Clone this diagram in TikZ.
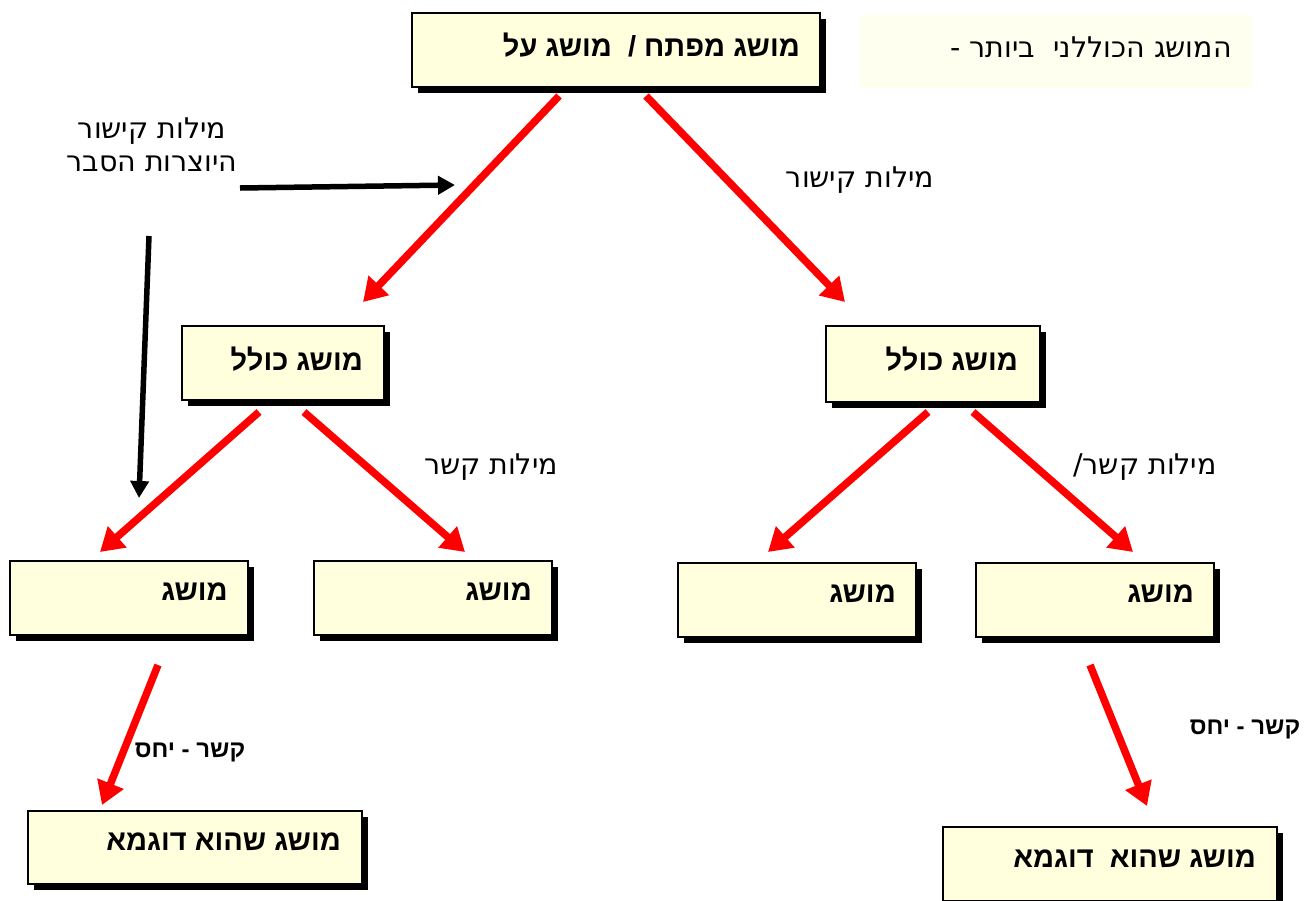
\documentclass[tikz,border=0pt]{standalone}
\usepackage{fontspec}
\usetikzlibrary{arrows.meta,shadows}
\TeXXeTstate=1
\newfontfamily\hebb[Script=Hebrew]{Liberation Sans}
\newfontfamily\hebr[Script=Hebrew]{DejaVu Sans}
\definecolor{boxfill}{RGB}{255,255,222}
\definecolor{legfill}{RGB}{255,255,240}
\tikzset{
  cbox/.style={draw=black,line width=1.5pt,fill=boxfill,inner sep=0pt,
    drop shadow={opacity=1,fill=black,shadow xshift=6pt,shadow yshift=-6pt}},
  btxt/.style={font=\hebb\bfseries\fontsize{29}{34}\selectfont,inner sep=0pt,anchor=east},
  ltxt/.style={font=\hebr\fontsize{28.5}{33}\selectfont,inner sep=0pt},
  stxt/.style={font=\hebb\bfseries\fontsize{24}{28}\selectfont,inner sep=0pt},
  redarr/.style={draw=red,line width=7.5pt,-{Triangle[length=23pt,width=27pt]}},
  blkarr/.style={draw=black,line width=5.5pt,-{Triangle[length=17pt,width=18pt]}}
}
\begin{document}
\begin{tikzpicture}[x=1pt,y=-1pt]
\useasboundingbox (0,0) rectangle (1311,900);
% legend
\node[fill=legfill,minimum width=392pt,minimum height=73pt,inner sep=0pt] (leg) at (1056,51.5) {};
\node[ltxt,anchor=east] (legt) at (1232,47) {\beginR המושג הכוללני~ ביותר -\endR};
% boxes
\node[cbox,minimum width=408pt,minimum height=74pt] (top) at (616,50) {};
\node[cbox,minimum width=202pt,minimum height=74pt] (gl) at (283,363) {};
\node[cbox,minimum width=214pt,minimum height=76pt] (gr) at (933,364) {};
\node[cbox,minimum width=238pt,minimum height=74pt] (ca) at (129,598) {};
\node[cbox,minimum width=238pt,minimum height=74pt] (cb) at (433,598) {};
\node[cbox,minimum width=238pt,minimum height=74pt] (cc) at (797,600) {};
\node[cbox,minimum width=238pt,minimum height=74pt] (cd) at (1095,600) {};
\node[cbox,minimum width=334pt,minimum height=73pt] (ea) at (195,847.5) {};
\node[cbox,minimum width=334pt,minimum height=74pt] (eb) at (1110,864) {};
% box texts
\node[btxt] (topt) at (800,45) {\beginR מושג מפתח /~ מושג על\endR};
\node[btxt] (glt) at (363,359) {\beginR מושג כולל\endR};
\node[btxt] (grt) at (1018,359) {\beginR מושג כולל\endR};
\node[btxt] (cat) at (228,592) {\beginR מושג\endR};
\node[btxt] (cbt) at (532,592) {\beginR מושג\endR};
\node[btxt] (cct) at (896,594) {\beginR מושג\endR};
\node[btxt] (cdt) at (1194,594) {\beginR מושג\endR};
\node[btxt] (eat) at (341,842) {\beginR מושג שהוא דוגמא\endR};
\node[btxt] (ebt) at (1256,859) {\beginR מושג שהוא~ דוגמא\endR};
% labels
\node[ltxt,align=center] (l1) at (152,145) {\beginR מילות קישור\endR\\\beginR היוצרות הסבר\endR};
\node[ltxt] (l2) at (860,180) {\beginR מילות קישור\endR};
\node[ltxt] (l3) at (491,467) {\beginR מילות קשר\endR};
\node[ltxt] (l4) at (1145,467) {\beginR מילות קשר/\endR};
\node[stxt] (l5) at (190,752) {\beginR קשר - יחס\endR};
\node[stxt] (l6) at (1245,729) {\beginR קשר - יחס\endR};
% arrow end points
\coordinate (a1s) at (559,96);  \coordinate (a1e) at (363,302);
\coordinate (a2s) at (646,96);  \coordinate (a2e) at (845,302);
\coordinate (a3s) at (259,412); \coordinate (a3e) at (100,552);
\coordinate (a4s) at (304,412); \coordinate (a4e) at (465,552);
\coordinate (a5s) at (928,412); \coordinate (a5e) at (768,552);
\coordinate (a6s) at (973,412); \coordinate (a6e) at (1133,552);
\coordinate (a7s) at (158,665); \coordinate (a7e) at (102,805);
\coordinate (a8s) at (1090,665); \coordinate (a8e) at (1147,806);
\coordinate (b1s) at (240,188); \coordinate (b1e) at (455,185);
\coordinate (b2s) at (149,236); \coordinate (b2e) at (139,498);
\draw[redarr] (a1s) -- (a1e);
\draw[redarr] (a2s) -- (a2e);
\draw[redarr] (a3s) -- (a3e);
\draw[redarr] (a4s) -- (a4e);
\draw[redarr] (a5s) -- (a5e);
\draw[redarr] (a6s) -- (a6e);
\draw[redarr] (a7s) -- (a7e);
\draw[redarr] (a8s) -- (a8e);
\draw[blkarr] (b1s) -- (b1e);
\draw[blkarr] (b2s) -- (b2e);
\end{tikzpicture}
\end{document}
